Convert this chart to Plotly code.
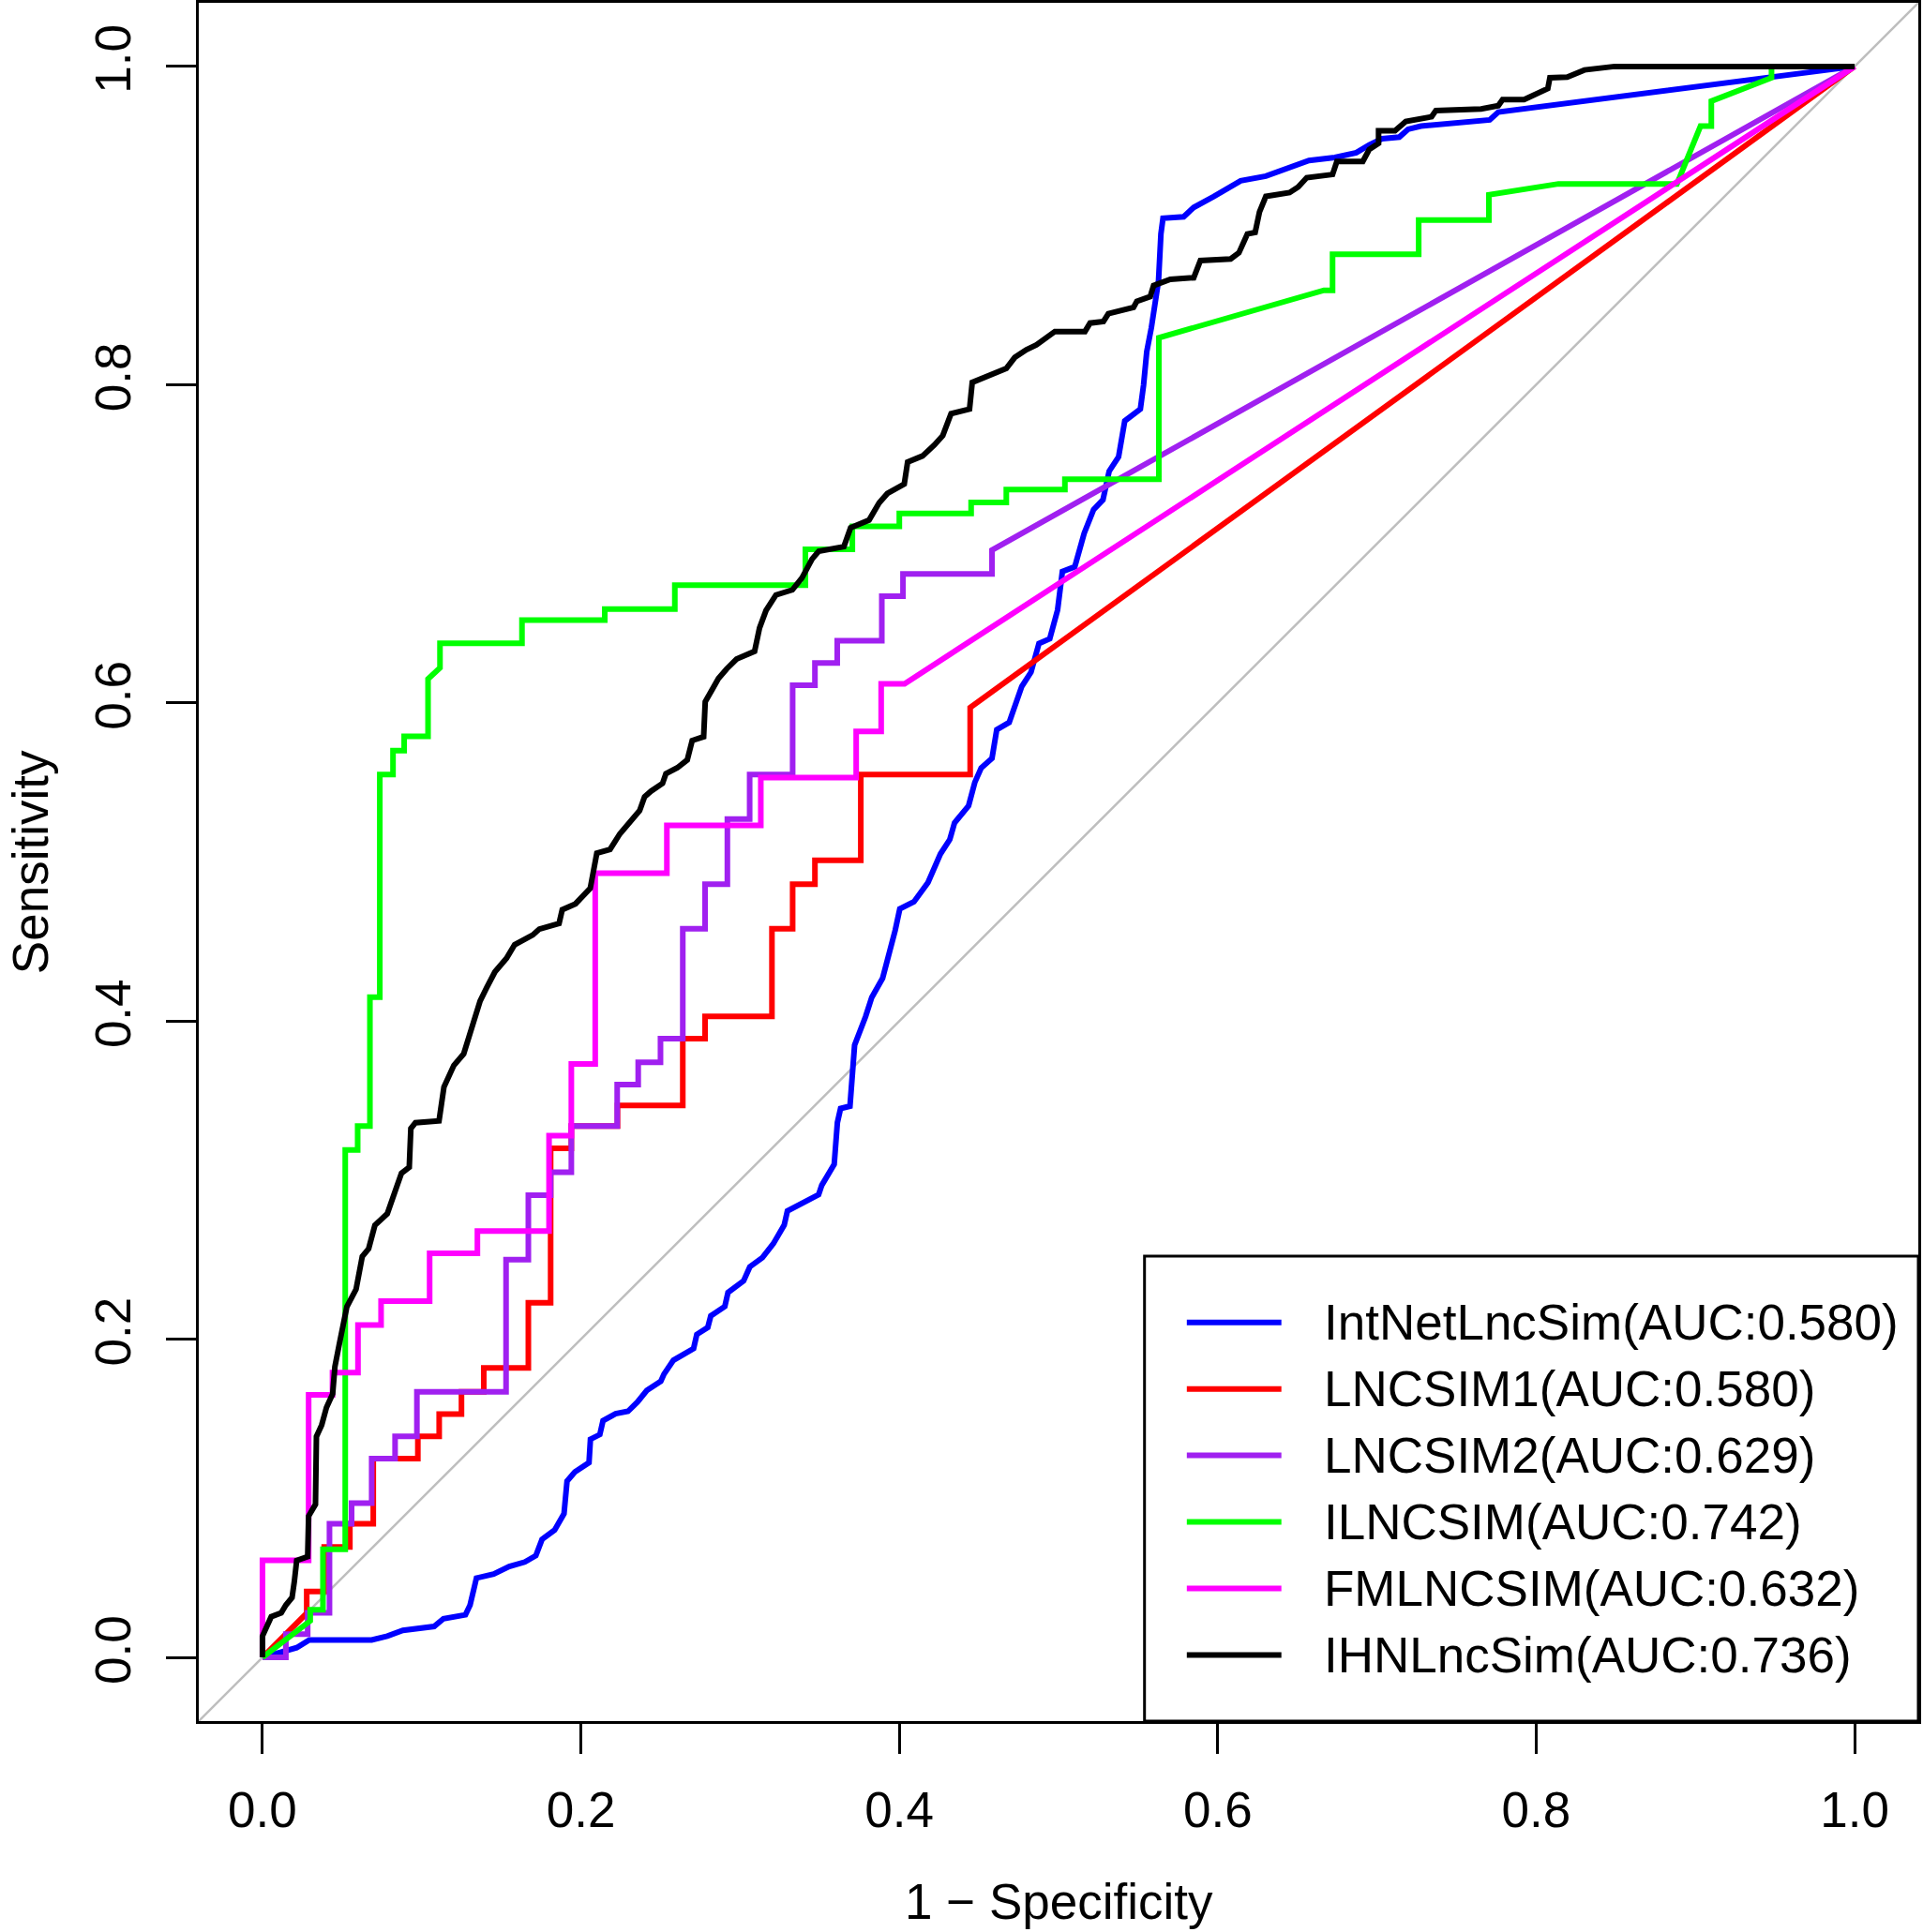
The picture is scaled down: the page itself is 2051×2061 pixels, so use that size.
import plotly.graph_objects as go

# ---------------- data ----------------
series_names = ["IntNetLncSim(AUC:0.580)", "LNCSIM1(AUC:0.580)", "LNCSIM2(AUC:0.629)",
                "ILNCSIM(AUC:0.742)", "FMLNCSIM(AUC:0.632)", "IHNLncSim(AUC:0.736)"]
series_colors = ["#0000FF", "#FF0000", "#A020F0", "#00FF00", "#FF00FF", "#000000"]

intnet_fpr = [0, 0.0078, 0.0215, 0.0294, 0.0686, 0.0784, 0.0882, 0.1078, 0.1137, 0.1275, 0.1304, 0.1344,
              0.1452, 0.1550, 0.1648, 0.1717, 0.1756, 0.1835, 0.1894, 0.1913, 0.1962, 0.2051, 0.2060,
              0.2119, 0.2139, 0.2218, 0.2296, 0.2355, 0.2414, 0.2502, 0.2522, 0.2581, 0.2708, 0.2728,
              0.2797, 0.2816, 0.2904, 0.2924, 0.3022, 0.3061, 0.3140, 0.3209, 0.3277, 0.3297, 0.3405,
              0.3493, 0.3513, 0.3591, 0.3611, 0.3631, 0.3690, 0.3705, 0.3719, 0.3788, 0.3827, 0.3895,
              0.3945, 0.3974, 0.4003, 0.4092, 0.4180, 0.4258, 0.4317, 0.4347, 0.4435, 0.4474, 0.4514,
              0.4582, 0.4612, 0.4690, 0.4769, 0.4827, 0.4877, 0.4945, 0.4994, 0.5024, 0.5102, 0.5161,
              0.5220, 0.5279, 0.5318, 0.5377, 0.5416, 0.5514, 0.5534, 0.5554, 0.5583, 0.5607, 0.5628,
              0.5643, 0.5656, 0.5786, 0.5849, 0.5975, 0.6038, 0.6144, 0.6302, 0.6437, 0.6573, 0.6735,
              0.6870, 0.6951, 0.7032, 0.7140, 0.7195, 0.7276, 0.7411, 0.7708, 0.7762, 1.0]
intnet_tpr = [0, 0.0024, 0.0061, 0.0110, 0.0110, 0.0134, 0.0170, 0.0195, 0.0244, 0.0268, 0.0329, 0.0499,
              0.0524, 0.0572, 0.0600, 0.0640, 0.0742, 0.0801, 0.0903, 0.1108, 0.1166, 0.1225, 0.1371,
              0.1401, 0.1488, 0.1532, 0.1547, 0.1605, 0.1678, 0.1736, 0.1781, 0.1868, 0.1942, 0.2030,
              0.2074, 0.2147, 0.2206, 0.2294, 0.2367, 0.2455, 0.2513, 0.2601, 0.2718, 0.2806, 0.2865,
              0.2909, 0.2968, 0.3099, 0.3362, 0.3450, 0.3465, 0.3668, 0.3848, 0.4028, 0.4149, 0.4269,
              0.4450, 0.4570, 0.4705, 0.4750, 0.4871, 0.5050, 0.5141, 0.5246, 0.5353, 0.5500, 0.5591,
              0.5651, 0.5832, 0.5877, 0.6103, 0.6193, 0.6373, 0.6403, 0.6584, 0.6825, 0.6855, 0.7065,
              0.7215, 0.7276, 0.7456, 0.7546, 0.7772, 0.7847, 0.7997, 0.8207, 0.8358, 0.8535, 0.8653,
              0.8947, 0.9046, 0.9055, 0.9114, 0.9183, 0.9222, 0.9281, 0.9311, 0.9360, 0.9409, 0.9428,
              0.9458, 0.9507, 0.9546, 0.9556, 0.9605, 0.9625, 0.9635, 0.9664, 0.9713, 1.0]

lncsim1_fpr = [0, 0.0278, 0.0278, 0.0388, 0.0388, 0.0549, 0.0549, 0.0696, 0.0696, 0.0976, 0.0976, 0.111,
               0.111, 0.125, 0.125, 0.139, 0.139, 0.167, 0.167, 0.181, 0.181, 0.194, 0.194, 0.223, 0.223,
               0.264, 0.264, 0.278, 0.278, 0.320, 0.320, 0.333, 0.333, 0.347, 0.347, 0.3758, 0.3758,
               0.4445, 0.4445, 1.0]
lncsim1_tpr = [0, 0.0278, 0.0414, 0.0414, 0.0694, 0.0694, 0.0840, 0.0840, 0.125, 0.125, 0.139, 0.139,
               0.153, 0.153, 0.167, 0.167, 0.182, 0.182, 0.223, 0.223, 0.320, 0.320, 0.334, 0.334, 0.347,
               0.347, 0.389, 0.389, 0.403, 0.403, 0.458, 0.458, 0.486, 0.486, 0.501, 0.501, 0.555,
               0.555, 0.597, 1.0]

lncsim2_fpr = [0, 0.0147, 0.0147, 0.0284, 0.0284, 0.0421, 0.0421, 0.056, 0.056, 0.0686, 0.0686, 0.0833,
               0.0833, 0.097, 0.097, 0.153, 0.153, 0.167, 0.167, 0.181, 0.181, 0.194, 0.194, 0.2228,
               0.2228, 0.236, 0.236, 0.250, 0.250, 0.264, 0.264, 0.278, 0.278, 0.292, 0.292, 0.306,
               0.306, 0.333, 0.333, 0.347, 0.347, 0.361, 0.361, 0.389, 0.389, 0.4023, 0.4023, 0.4582,
               0.4582, 1.0]
lncsim2_tpr = [0, 0, 0.0146, 0.0146, 0.028, 0.028, 0.084, 0.084, 0.097, 0.097, 0.125, 0.125, 0.139, 0.139,
               0.167, 0.167, 0.250, 0.250, 0.2905, 0.2905, 0.305, 0.305, 0.334, 0.334, 0.360, 0.360,
               0.374, 0.374, 0.389, 0.389, 0.458, 0.458, 0.486, 0.486, 0.527, 0.527, 0.555, 0.555,
               0.611, 0.611, 0.625, 0.625, 0.639, 0.639, 0.667, 0.667, 0.681, 0.681, 0.696, 1.0]

ilncsim_fpr = [0, 0.030, 0.030, 0.038, 0.038, 0.052, 0.052, 0.0598, 0.0598, 0.0675, 0.0675, 0.0737,
               0.0737, 0.082, 0.082, 0.089, 0.089, 0.104, 0.104, 0.1115, 0.1115, 0.163, 0.163, 0.215,
               0.215, 0.259, 0.259, 0.341, 0.341, 0.3705, 0.3705, 0.400, 0.400, 0.4451, 0.4451, 0.4672,
               0.4672, 0.504, 0.504, 0.563, 0.563, 0.6667, 0.6721, 0.6721, 0.7262, 0.7262, 0.7703,
               0.7703, 0.8140, 0.8884, 0.9032, 0.9100, 0.9100, 0.9478, 0.9478, 1.0]
ilncsim_tpr = [0, 0.023, 0.030, 0.030, 0.068, 0.068, 0.319, 0.319, 0.334, 0.334, 0.415, 0.415, 0.555,
               0.555, 0.570, 0.570, 0.579, 0.579, 0.615, 0.622, 0.6375, 0.6375, 0.652, 0.652, 0.659,
               0.659, 0.674, 0.674, 0.6965, 0.6965, 0.711, 0.711, 0.719, 0.719, 0.726, 0.726, 0.734,
               0.734, 0.7405, 0.7405, 0.8295, 0.8593, 0.8593, 0.8819, 0.8819, 0.9035, 0.9035, 0.9193,
               0.9262, 0.9262, 0.9625, 0.9625, 0.9782, 0.9929, 1.0, 1.0]

fmlncsim_fpr = [0, 0, 0.029, 0.029, 0.044, 0.044, 0.060, 0.060, 0.0745, 0.0745, 0.105, 0.105, 0.135,
                0.135, 0.180, 0.180, 0.194, 0.194, 0.209, 0.209, 0.254, 0.254, 0.313, 0.313, 0.3729,
                0.3729, 0.3886, 0.3886, 0.4033, 1.0]
fmlncsim_tpr = [0, 0.061, 0.061, 0.165, 0.165, 0.179, 0.179, 0.209, 0.209, 0.224, 0.224, 0.254, 0.254,
                0.268, 0.268, 0.328, 0.328, 0.373, 0.373, 0.493, 0.493, 0.523, 0.523, 0.553, 0.553,
                0.582, 0.582, 0.612, 0.612, 1.0]

ihn_fpr = [0, 0, 0.0055, 0.0118, 0.0147, 0.0186, 0.0200, 0.0215, 0.0284, 0.0290, 0.0333, 0.0339, 0.0372,
           0.0402, 0.0441, 0.0455, 0.0481, 0.0506, 0.0530, 0.0588, 0.0627, 0.0667, 0.0706, 0.0784,
           0.0824, 0.0873, 0.0922, 0.0932, 0.0961, 0.1109, 0.1140, 0.1202, 0.1264, 0.1326, 0.1367,
           0.1409, 0.1460, 0.1533, 0.1584, 0.1698, 0.1739, 0.1863, 0.1883, 0.1966, 0.2007, 0.2059,
           0.2100, 0.2183, 0.2245, 0.2307, 0.2369, 0.2400, 0.2441, 0.2513, 0.2534, 0.2606, 0.2668,
           0.2699, 0.2771, 0.2781, 0.2823, 0.2864, 0.2916, 0.2978, 0.3091, 0.3122, 0.3163, 0.3225,
           0.3328, 0.3389, 0.3452, 0.3494, 0.3652, 0.3694, 0.3810, 0.3873, 0.3925, 0.4031, 0.4052,
           0.4146, 0.4220, 0.4273, 0.4325, 0.4441, 0.4458, 0.4567, 0.4672, 0.4725, 0.4798, 0.4861,
           0.4945, 0.4977, 0.5166, 0.5198, 0.5282, 0.5313, 0.5471, 0.5492, 0.5576, 0.5597, 0.5702,
           0.5849, 0.5891, 0.6081, 0.6133, 0.6186, 0.6235, 0.6262, 0.6302, 0.6451, 0.6505, 0.6559,
           0.6721, 0.6748, 0.6911, 0.6951, 0.7010, 0.7010, 0.7113, 0.7181, 0.7343, 0.7370, 0.7654,
           0.7762, 0.7789, 0.7924, 0.8073, 0.8086, 0.8195, 0.8303, 0.8492, 1.0]
ihn_tpr = [0, 0.0134, 0.0256, 0.0280, 0.0329, 0.0377, 0.0475, 0.0609, 0.0633, 0.0889, 0.0962, 0.1388,
           0.1461, 0.1571, 0.1656, 0.1827, 0.1961, 0.2094, 0.2204, 0.2314, 0.2521, 0.2569, 0.2716,
           0.2789, 0.2910, 0.3044, 0.3081, 0.3324, 0.3361, 0.3373, 0.3586, 0.3721, 0.3794, 0.4001,
           0.4126, 0.4211, 0.4309, 0.4395, 0.4480, 0.4541, 0.4578, 0.4614, 0.4700, 0.4737, 0.4786,
           0.4835, 0.5055, 0.5079, 0.5177, 0.5250, 0.5323, 0.5409, 0.5445, 0.5494, 0.5555, 0.5592,
           0.5641, 0.5763, 0.5787, 0.6007, 0.6080, 0.6153, 0.6214, 0.6275, 0.6324, 0.6471, 0.6581,
           0.6678, 0.6710, 0.6786, 0.6904, 0.6953, 0.6982, 0.7100, 0.7149, 0.7257, 0.7316, 0.7375,
           0.7513, 0.7552, 0.7621, 0.7680, 0.7818, 0.7847, 0.8014, 0.8063, 0.8102, 0.8171, 0.8220,
           0.8250, 0.8318, 0.8334, 0.8334, 0.8387, 0.8397, 0.8446, 0.8485, 0.8524, 0.8554, 0.8623,
           0.8662, 0.8672, 0.8780, 0.8790, 0.8829, 0.8947, 0.8957, 0.9085, 0.9183, 0.9207, 0.9242,
           0.9301, 0.9321, 0.9403, 0.9403, 0.9478, 0.9517, 0.9596, 0.9596, 0.9655, 0.9684, 0.9723,
           0.9733, 0.9753, 0.9792, 0.9792, 0.9861, 0.9929, 0.9933, 0.9978, 1.0, 1.0]

tick_vals = [0.0, 0.2, 0.4, 0.6, 0.8, 1.0]
tick_text = ["0.0", "0.2", "0.4", "0.6", "0.8", "1.0"]
axis_range = [-0.04, 1.04]
x_title = "1 \u2212 Specificity"
y_title = "Sensitivity"

curves = [(intnet_fpr, intnet_tpr), (lncsim1_fpr, lncsim1_tpr), (lncsim2_fpr, lncsim2_tpr),
          (ilncsim_fpr, ilncsim_tpr), (fmlncsim_fpr, fmlncsim_tpr), (ihn_fpr, ihn_tpr)]

# ---------------- figure ----------------
FONT = "Liberation Sans, Arial, Helvetica, sans-serif"
FS = 53
LW = 6

fig = go.Figure()

# chance diagonal spanning the whole plotting region
fig.add_trace(go.Scatter(x=axis_range, y=axis_range, mode="lines",
                         line=dict(color="#BEBEBE", width=2.5), showlegend=False, hoverinfo="skip"))

for (fx, ty), name, col in zip(curves, series_names, series_colors):
    fig.add_trace(go.Scatter(x=fx, y=ty, mode="lines", name=name,
                             line=dict(color=col, width=LW), showlegend=False))

axis_common = dict(range=axis_range, tickvals=tick_vals, ticktext=tick_text, ticks="outside",
                   ticklen=32, tickwidth=3, tickcolor="black", showline=True, mirror=True,
                   linewidth=3, linecolor="black", showgrid=False, zeroline=False,
                   tickfont=dict(family=FONT, size=FS, color="black"), automargin=False)

fig.update_xaxes(**axis_common, ticklabelstandoff=14)
fig.update_yaxes(**axis_common, tickangle=-90, ticklabelstandoff=17)

# manual legend (R style, long line keys)
shapes = [dict(type="rect", xref="paper", yref="paper", x0=0.550, x1=1.0, y0=0.0, y1=0.2706,
               line=dict(color="black", width=3), fillcolor="white", layer="above")]
annotations = []
row_y0 = 0.2320
row_dy = 0.0387
for i, (name, col) in enumerate(zip(series_names, series_colors)):
    yy = row_y0 - i * row_dy
    shapes.append(dict(type="line", xref="paper", yref="paper", x0=0.5746, x1=0.6296, y0=yy, y1=yy,
                       line=dict(color=col, width=LW), layer="above"))
    annotations.append(dict(xref="paper", yref="paper", x=0.6531, y=yy, text=name, showarrow=False,
                            xanchor="left", yanchor="middle",
                            font=dict(family=FONT, size=FS, color="black")))

annotations.append(dict(xref="paper", yref="paper", x=0.5, y=-0.1050, text=x_title, showarrow=False,
                        xanchor="center", yanchor="middle", font=dict(family=FONT, size=FS, color="black")))
annotations.append(dict(xref="paper", yref="paper", x=-0.0978, y=0.5, text=y_title, showarrow=False,
                        textangle=-90, xanchor="center", yanchor="middle",
                        font=dict(family=FONT, size=FS, color="black")))

fig.update_layout(width=2051, height=2061, margin=dict(l=212, r=5, t=3, b=225),
                  paper_bgcolor="white", plot_bgcolor="white", showlegend=False,
                  shapes=shapes, annotations=annotations, font=dict(family=FONT, size=FS))

fig.write_html("out.html", config={"displayModeBar": False},
               post_script="document.body.style.margin='0px';")
